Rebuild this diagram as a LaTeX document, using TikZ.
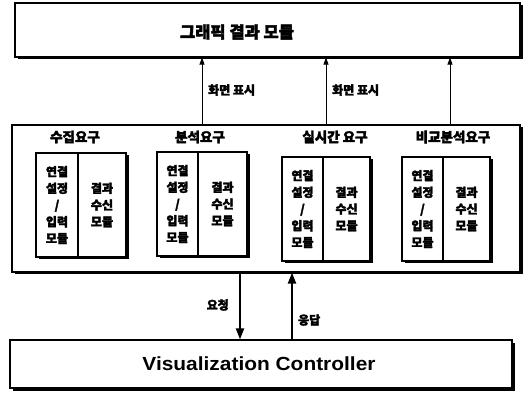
\documentclass[tikz,border=0pt]{standalone}
\usepackage{fontspec}
\setmainfont{Liberation Sans}
\newfontfamily\kr[FakeBold=2.5]{Noto Sans CJK KR}
\usetikzlibrary{shadows,arrows.meta}
\begin{document}
\begin{tikzpicture}[x=1pt,y=-1pt,
  shbox/.style={draw=black,line width=1.2pt,fill=white,inner sep=0pt,
    drop shadow={shadow xshift=2.5pt,shadow yshift=-2.5pt,fill=black,opacity=1}},
  colbox/.style={draw=black,line width=1.1pt,fill=white,inner sep=0pt,minimum height=104pt},
  lab/.style={font=\kr\bfseries\fontsize{12}{14}\selectfont,inner sep=0pt},
  gtitle/.style={font=\kr\bfseries\fontsize{13.5}{15}\selectfont,inner sep=0pt},
  coltext/.style={font=\kr\bfseries\fontsize{12}{16.7}\selectfont,align=center,inner sep=0pt},
  arr/.style={line width=1pt,-{Triangle[length=7pt,width=5pt]}},
  barr/.style={line width=2pt,-{Triangle[length=11pt,width=8pt]}}
]
\useasboundingbox (0,0) rectangle (530,395);
% main boxes
\node[shbox,minimum width=505pt,minimum height=54pt] (top) at (267.5,30) {};
\node[font=\kr\bfseries\fontsize{16.5}{18}\selectfont] (toptxt) at (237,32) {그래픽 결과 모듈};
\node[shbox,minimum width=508pt,minimum height=147pt] (mid) at (266,198.5) {};
\node[shbox,minimum width=502pt,minimum height=48pt] (bot) at (261,364) {};
\node[font=\bfseries\fontsize{19}{21}\selectfont] (bottxt) at (259,364) {\scalebox{1.1}[1]{Visualization Controller}};

% group titles
\node[gtitle] (t1) at (75,137) {수집요구};
\node[gtitle] (t2) at (200,137) {분석요구};
\node[gtitle] (t3) at (335,137) {실시간 요구};
\node[gtitle] (t4) at (453,137) {비교분석요구};

% inner column boxes
\foreach \i/\xa/\xb/\xc/\yt in {1/36/78/126/153, 2/157/198/247/152, 3/282/323/370/157, 4/402/443/490/157}{
  \pgfmathsetmacro{\wl}{\xb-\xa}
  \pgfmathsetmacro{\wr}{\xc-\xb}
  \pgfmathsetmacro{\cxl}{(\xa+\xb)/2}
  \pgfmathsetmacro{\cxr}{(\xb+\xc)/2}
  \pgfmathsetmacro{\cy}{\yt+52}
  \fill[black] (\xa+2.5,\yt+2.5) rectangle (\xc+2.5,\yt+106.5);
  \node[colbox,minimum width=\wr pt] (r\i) at (\cxr,\cy) {};
  \node[colbox,minimum width=\wl pt] (l\i) at (\cxl,\cy) {};
  \node[coltext] (lt\i) at (l\i.center) {연결\\설정\\/\\입력\\모듈};
  \node[coltext] (rt\i) at (r\i.center) {결과\\수신\\모듈};
}

% arrows to top
\foreach \n/\x in {a/202,b/326,c/450}{
  \coordinate (\n) at (\x,0);
  \draw[arr] (mid.north -| \n) -- (top.south -| \n);
}
\node[lab,anchor=west] (s1) at (208,90) {화면 표시};
\node[lab,anchor=west] (s2) at (332,90) {화면 표시};

% bottom arrows
\coordinate (d) at (240,0);
\coordinate (u) at (292,0);
\draw[barr] (mid.south -| d) -- (bot.north -| d);
\draw[barr] (bot.north -| u) -- (mid.south -| u);
\node[lab,anchor=east] (req) at (229,305) {요청};
\node[lab,anchor=west] (resp) at (298,320) {응답};
\end{tikzpicture}
\end{document}
